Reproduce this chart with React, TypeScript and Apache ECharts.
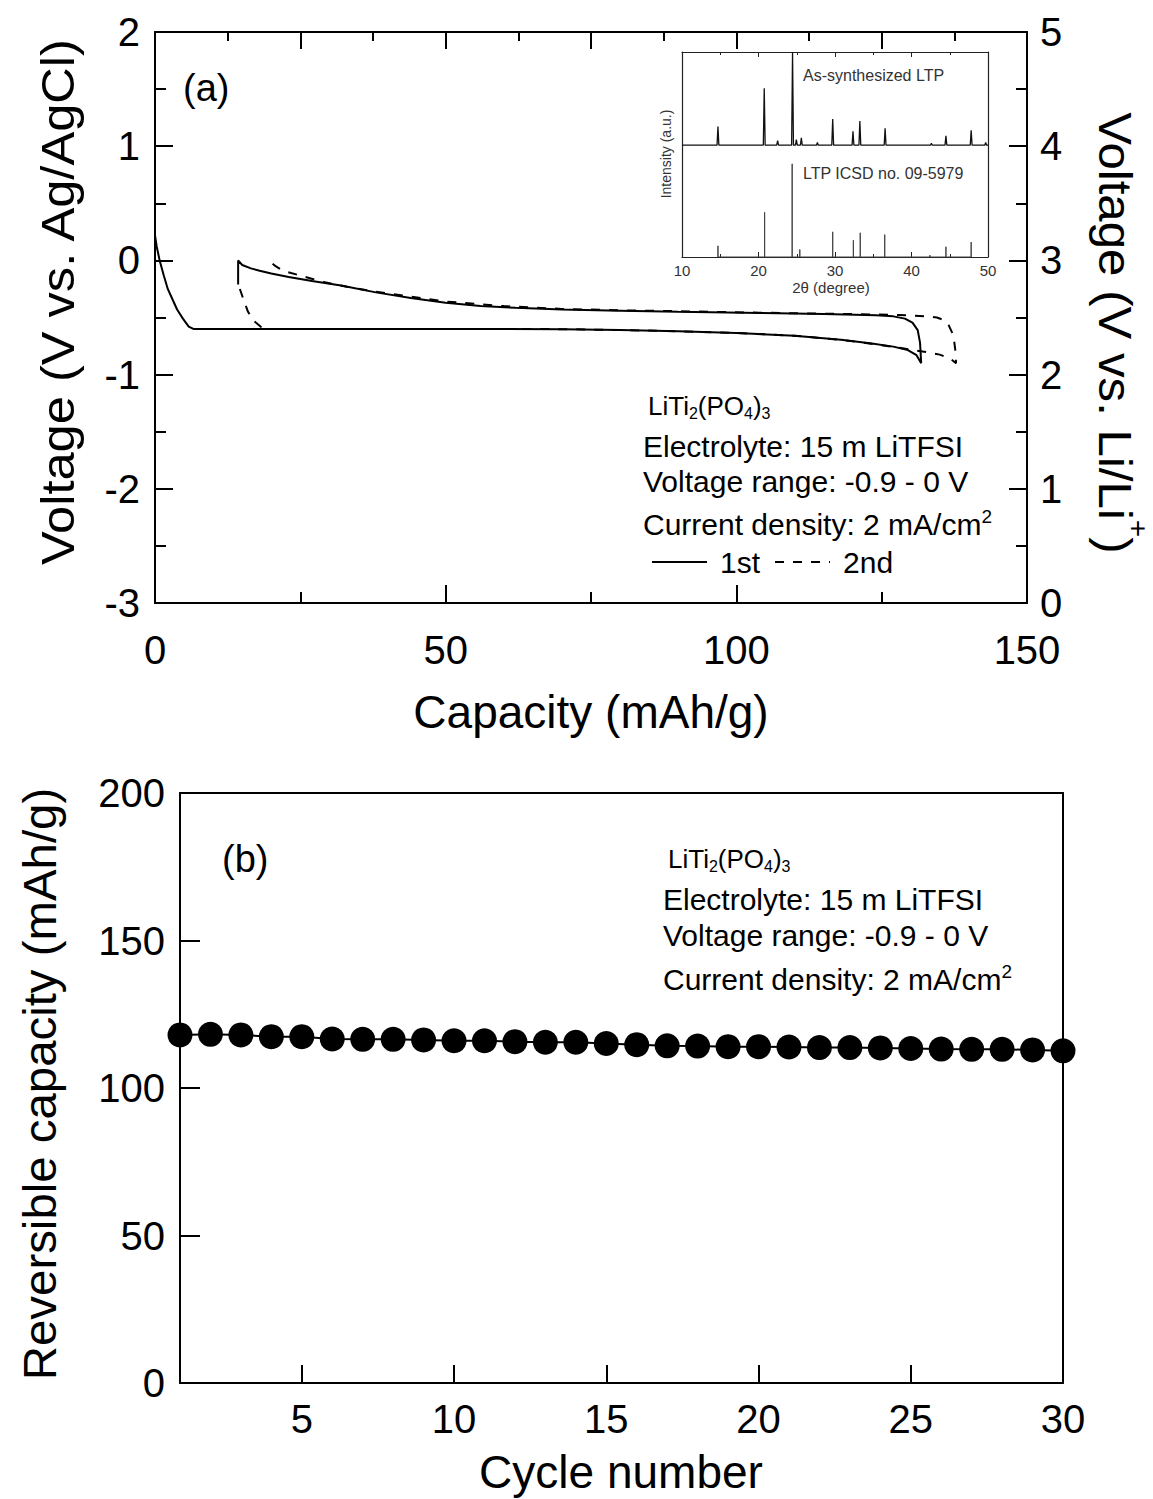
import React, { useEffect, useRef } from "react";
import * as echarts from "echarts";

// ---------- Panel (a): galvanostatic curves, [capacity mAh/g, V vs Ag/AgCl] ----------
const cycle1Discharge: [number, number][] = [
  [0, 0.22], [0.3, 0.12], [0.8, 0.0], [1.5, -0.13], [2.2, -0.25], [3.0, -0.34], [3.8, -0.43],
  [4.8, -0.51], [5.8, -0.58], [6.6, -0.6], [20, -0.6], [40, -0.6], [60, -0.6], [70, -0.602],
  [80, -0.61], [90, -0.62], [100, -0.635], [110, -0.66], [118, -0.695], [123, -0.725],
  [127, -0.755], [129.5, -0.785], [131, -0.83], [131.8, -0.9],
];
const cycle1Charge: [number, number][] = [
  [131.8, -0.9], [131.6, -0.72], [131.2, -0.61], [130.3, -0.545], [129, -0.51], [127, -0.49],
  [124, -0.48], [115, -0.47], [104, -0.46], [90, -0.45], [80, -0.44], [70, -0.43], [62, -0.415],
  [56, -0.4], [50, -0.37], [44, -0.33], [38, -0.28], [32, -0.22], [27, -0.18], [23, -0.145],
  [20, -0.115], [18, -0.09], [16.5, -0.07], [15, -0.04], [14.3, 0.0], [14.3, -0.21],
];
const cycle2Discharge: [number, number][] = [
  [14.6, -0.25], [15.2, -0.34], [16, -0.45], [17, -0.53], [18.3, -0.585], [19.5, -0.6], [40, -0.6],
  [60, -0.6], [70, -0.602], [80, -0.61], [90, -0.62], [100, -0.635], [110, -0.66], [118, -0.695],
  [124, -0.735], [128, -0.765], [131, -0.79], [133, -0.805], [135, -0.825], [136.8, -0.86],
  [137.8, -0.9],
];
const cycle2Charge: [number, number][] = [
  [137.8, -0.9], [137.7, -0.8], [137.5, -0.72], [137.1, -0.63], [136.5, -0.565], [135.6, -0.52],
  [134.5, -0.5], [132.5, -0.49], [128, -0.478], [120, -0.47], [104, -0.458], [90, -0.445],
  [80, -0.437], [70, -0.425], [60, -0.4], [50, -0.36], [43, -0.31], [37.5, -0.27], [33, -0.23],
  [29, -0.19], [25.5, -0.14], [22, -0.09], [20.6, -0.045], [19.8, -0.01],
];

// ---------- Inset: XRD ----------
const asSynthPos = [14.7, 20.75, 22.5, 24.45, 24.95, 25.6, 27.7, 29.7, 32.35, 33.25, 36.55, 42.6, 44.5, 47.8, 49.7];
const asSynthInt = [20, 61, 5, 100, 6, 8, 3, 28, 15, 26, 18, 2, 10, 16, 3];
const icsdPos = [14.7, 20.8, 24.4, 25.4, 29.7, 32.4, 33.3, 36.5, 42.4, 44.5, 47.8];
const icsdInt = [12, 48, 100, 8, 27, 18, 26, 24, 2, 11, 16];
const XRD_OFFSET = 120;

// ---------- Panel (b): cycling ----------
const cycleNumber = [1, 2, 3, 4, 5, 6, 7, 8, 9, 10, 11, 12, 13, 14, 15, 16, 17, 18, 19, 20, 21, 22, 23, 24, 25, 26, 27, 28, 29, 30];
const reversibleCapacity = [
  118.0, 118.2, 118.0, 117.4, 117.4, 116.6, 116.5, 116.5, 116.3, 116.0, 116.0, 115.7, 115.5, 115.5, 115.1,
  114.7, 114.3, 114.2, 114.0, 114.0, 113.9, 113.7, 113.7, 113.6, 113.4, 113.2, 113.1, 113.1, 112.9, 112.6,
];
const cycleTicks = [5, 10, 15, 20, 25, 30];

const FONT = "Liberation Sans";
const BLACK = "#000";

function buildOption(): any {
  const asSynthLine: number[][] = [[10, XRD_OFFSET]];
  asSynthPos.forEach((p, i) => {
    asSynthLine.push([p - 0.12, XRD_OFFSET], [p, XRD_OFFSET + asSynthInt[i]], [p + 0.12, XRD_OFFSET]);
  });
  asSynthLine.push([50, XRD_OFFSET]);
  const icsdSticks: number[][] = [];
  icsdPos.forEach((p, i) => {
    icsdSticks.push([p, 0], [p, icsdInt[i]], [p, 0]);
  });

  const axLine = (w = 2, c = BLACK) => ({ show: true, onZero: false, lineStyle: { color: c, width: w } });
  const noSplit = { show: false };

  const txt = (x: number, y: number, text: string, size: number, extra: any = {}, rot = 0) => ({
    type: "text",
    x,
    y,
    rotation: rot,
    scaleX: extra.scaleX || 1,
    silent: true,
    style: {
      text,
      fontSize: size,
      fontFamily: FONT,
      fill: extra.fill || BLACK,
      align: extra.align || "left",
      verticalAlign: "middle",
      rich: extra.rich,
    },
  });

  const subRich = (main: number) => ({
    m: { fontSize: main, fontFamily: FONT, lineHeight: main + 4, fill: BLACK },
    sub: { fontSize: Math.round(main * 0.62), fontFamily: FONT, lineHeight: Math.round(main * 0.6), verticalAlign: "bottom", fill: BLACK },
    sup: { fontSize: Math.round(main * 0.62), fontFamily: FONT, lineHeight: Math.round(main * 0.4), verticalAlign: "top", fill: BLACK },
  });

  const annot = (x: number, y0: number, ys: number[], f1: number, f2: number) => [
    txt(x + 5, y0, "{m|LiTi}{sub|2}{m|(PO}{sub|4}{m|)}{sub|3}", f1, { rich: subRich(f1) }),
    txt(x, ys[0], "Electrolyte: 15 m LiTFSI", f2),
    txt(x, ys[1], "Voltage range: -0.9 - 0 V", f2),
    txt(x, ys[2], "{m|Current density: 2 mA/cm}{sup|2}", f2, { rich: subRich(f2) }),
  ];

  const rightRich = {
    m: { fontSize: 46, fontFamily: FONT, lineHeight: 76, fill: BLACK },
    sup: { fontSize: 28, fontFamily: FONT, lineHeight: 10, verticalAlign: "top", fill: BLACK },
  };

  return {
    animation: false,
    backgroundColor: "#fff",
    textStyle: { fontFamily: FONT },
    grid: [
      { left: 155, top: 32, width: 872, height: 571, outerBoundsMode: "none" },
      { left: 682, top: 52, width: 306, height: 205, outerBoundsMode: "none" },
      { left: 180, top: 793, width: 883, height: 590, outerBoundsMode: "none" },
    ],
    legend: {
      data: ["1st", "2nd"],
      left: 646,
      top: 542,
      itemWidth: 55,
      itemHeight: 16,
      itemGap: 14,
      itemStyle: { opacity: 0, borderWidth: 0 },
      textStyle: { fontSize: 30, color: BLACK, fontFamily: FONT, padding: [0, 0, 0, 8] },
      selectedMode: false,
    },
    xAxis: [
      {
        type: "value", gridIndex: 0, position: "bottom", min: 0, max: 150, interval: 50,
        axisLine: axLine(2), splitLine: noSplit,
        axisTick: { show: true, inside: true, length: 18, lineStyle: { color: BLACK, width: 2 } },
        minorTick: { show: true, splitNumber: 2, length: 11, lineStyle: { color: BLACK, width: 2 } },
        axisLabel: { fontSize: 40, color: BLACK, margin: 27, fontFamily: FONT },
      },
      {
        type: "value", gridIndex: 0, position: "top", min: 0, max: 150, interval: 25,
        axisLine: axLine(2), splitLine: noSplit,
        axisTick: { show: true, inside: true, length: 17, lineStyle: { color: BLACK, width: 2 } },
        minorTick: { show: true, splitNumber: 2, length: 9, lineStyle: { color: BLACK, width: 2 } },
        axisLabel: { show: false },
      },
      {
        type: "value", gridIndex: 1, position: "bottom", min: 10, max: 50, interval: 10,
        axisLine: axLine(1.2, "#222"), splitLine: noSplit,
        axisTick: { show: true, inside: true, length: 5, lineStyle: { color: "#222", width: 1 } },
        minorTick: { show: true, splitNumber: 2, length: 3, lineStyle: { color: "#222", width: 1 } },
        axisLabel: { fontSize: 15, color: "#333", margin: 6, fontFamily: FONT },
      },
      {
        type: "value", gridIndex: 1, position: "top", min: 10, max: 50, interval: 10,
        axisLine: axLine(1.2, "#222"), splitLine: noSplit,
        axisTick: { show: true, inside: true, length: 5, lineStyle: { color: "#222", width: 1 } },
        minorTick: { show: true, splitNumber: 2, length: 3, lineStyle: { color: "#222", width: 1 } },
        axisLabel: { show: false },
      },
      {
        type: "value", gridIndex: 2, position: "bottom", min: 1, max: 30,
        axisLine: axLine(2), splitLine: noSplit,
        axisTick: { show: true, inside: true, length: 18, customValues: cycleTicks, lineStyle: { color: BLACK, width: 2 } },
        axisLabel: { fontSize: 40, color: BLACK, margin: 16, customValues: cycleTicks, fontFamily: FONT },
      },
      {
        type: "value", gridIndex: 2, position: "top", min: 1, max: 30,
        axisLine: axLine(2), splitLine: noSplit, axisTick: { show: false }, axisLabel: { show: false },
      },
    ],
    yAxis: [
      {
        type: "value", gridIndex: 0, position: "left", min: -3, max: 2, interval: 1,
        axisLine: axLine(2), splitLine: noSplit,
        axisTick: { show: true, inside: true, length: 18, lineStyle: { color: BLACK, width: 2 } },
        minorTick: { show: true, splitNumber: 2, length: 11, lineStyle: { color: BLACK, width: 2 } },
        axisLabel: { fontSize: 40, color: BLACK, margin: 15, fontFamily: FONT },
      },
      {
        type: "value", gridIndex: 0, position: "right", min: 0, max: 5, interval: 1,
        axisLine: axLine(2), splitLine: noSplit,
        axisTick: { show: true, inside: true, length: 18, lineStyle: { color: BLACK, width: 2 } },
        minorTick: { show: true, splitNumber: 2, length: 11, lineStyle: { color: BLACK, width: 2 } },
        axisLabel: { fontSize: 40, color: BLACK, margin: 13, fontFamily: FONT },
      },
      {
        type: "value", gridIndex: 1, position: "left", min: 0, max: 220,
        axisLine: axLine(1.2, "#222"), splitLine: noSplit, axisTick: { show: false }, axisLabel: { show: false },
      },
      {
        type: "value", gridIndex: 1, position: "right", min: 0, max: 220,
        axisLine: axLine(1.2, "#222"), splitLine: noSplit, axisTick: { show: false }, axisLabel: { show: false },
      },
      {
        type: "value", gridIndex: 2, position: "left", min: 0, max: 200, interval: 50,
        axisLine: axLine(2), splitLine: noSplit,
        axisTick: { show: true, inside: true, length: 20, lineStyle: { color: BLACK, width: 2 } },
        axisLabel: { fontSize: 40, color: BLACK, margin: 15, fontFamily: FONT },
      },
      {
        type: "value", gridIndex: 2, position: "right", min: 0, max: 200,
        axisLine: axLine(2), splitLine: noSplit, axisTick: { show: false }, axisLabel: { show: false },
      },
    ],
    series: [
      {
        name: "1st", type: "line", xAxisIndex: 0, yAxisIndex: 0,
        data: [...cycle1Discharge, ...cycle1Charge],
        symbol: "none", showSymbol: false, color: BLACK,
        lineStyle: { color: BLACK, width: 2, type: "solid" },
      },
      {
        name: "2nd", type: "line", xAxisIndex: 0, yAxisIndex: 0,
        data: [...cycle2Discharge, ...cycle2Charge],
        symbol: "none", showSymbol: false, color: BLACK,
        lineStyle: { color: BLACK, width: 2, type: [9, 9] },
      },
      {
        name: "As-synthesized LTP", type: "line", xAxisIndex: 2, yAxisIndex: 2,
        data: asSynthLine, symbol: "none", showSymbol: false,
        lineStyle: { color: "#111", width: 1.3 },
      },
      {
        name: "LTP ICSD no. 09-5979", type: "line", xAxisIndex: 2, yAxisIndex: 2,
        data: icsdSticks, symbol: "none", showSymbol: false,
        lineStyle: { color: "#444", width: 1 },
      },
      {
        name: "Reversible capacity", type: "line", xAxisIndex: 4, yAxisIndex: 4,
        data: cycleNumber.map((c, i) => [c, reversibleCapacity[i]]),
        symbol: "circle", symbolSize: 25, clip: false, color: BLACK,
        itemStyle: { color: BLACK },
        lineStyle: { color: BLACK, width: 2 },
      },
    ],
    graphic: [
      // panel (a)
      txt(183, 88, "(a)", 38),
      ...annot(643, 406, [446, 481, 524], 26, 30),
      txt(58, 302, "Voltage (V vs. Ag/AgCl)", 46, { align: "center", scaleX: 1.1 }, Math.PI / 2),
      txt(591, 712, "Capacity (mAh/g)", 46, { align: "center" }),
      txt(1115, 333, "{m|Voltage (V vs. Li/Li}{sup|+}{m|)}", 46, { align: "center", rich: rightRich, scaleX: 1.07 }, -Math.PI / 2),
      // inset
      txt(803, 75, "As-synthesized LTP", 16, { fill: "#333" }),
      txt(803, 173, "LTP ICSD no. 09-5979", 16, { fill: "#333" }),
      txt(666, 154, "Intensity (a.u.)", 14, { fill: "#333", align: "center" }, Math.PI / 2),
      txt(831, 287, "2θ (degree)", 15, { fill: "#333", align: "center" }),
      // panel (b)
      txt(222, 859, "(b)", 38),
      ...annot(663, 859, [899, 935, 979], 26, 30),
      txt(40, 1084, "Reversible capacity (mAh/g)", 46, { align: "center", scaleX: 1.03 }, Math.PI / 2),
      txt(621, 1472, "Cycle number", 46, { align: "center" }),
    ],
  };
}

export default function App() {
  const ref = useRef<HTMLDivElement>(null);
  useEffect(() => {
    document.body.style.margin = "0";
    if (!ref.current) return;
    const chart = echarts.init(ref.current, undefined, { renderer: "svg", width: 1153, height: 1499 });
    chart.setOption(buildOption());
    return () => chart.dispose();
  }, []);
  return <div ref={ref} style={{ width: 1153, height: 1499, background: "#fff" }} />;
}
